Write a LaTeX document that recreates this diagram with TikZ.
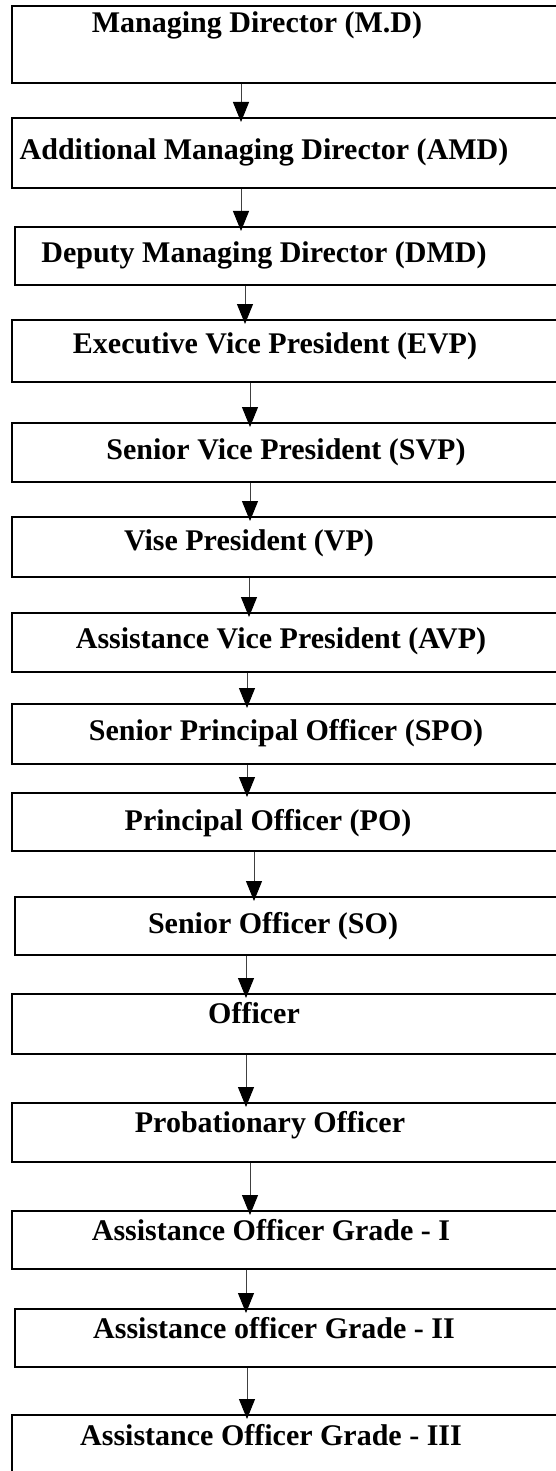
\documentclass[tikz,border=0pt]{standalone}
\usepackage{fontspec}
\setmainfont{Liberation Serif}
\usetikzlibrary{arrows.meta}
\tikzset{
  boxx/.style={draw=black, line width=1.6pt, rectangle, inner sep=0pt, anchor=north west, minimum width=570pt, minimum height=#1},
  lbl/.style={anchor=base, inner sep=0pt, font=\bfseries\fontsize{30}{36}\selectfont},
  tipx/.tip={Triangle[length=20pt 0 0, width=16pt 0 0, fill=black, color=black]},
  arr/.style={draw=black!75, line width=1pt, -tipx, shorten >=-5pt}
}
\begin{document}
\begin{tikzpicture}[x=1pt,y=-1pt]
\fill[white] (0,0) rectangle (556,1471);
\useasboundingbox (0,0) rectangle (556,1471);
\clip (0,0) rectangle (556,1471);
% boxes
\node[boxx=77pt] (b1) at (11,5) {};
\node[boxx=70pt] (b2) at (11,117) {};
\node[boxx=58pt] (b3) at (14,226) {};
\node[boxx=62pt] (b4) at (11,319) {};
\node[boxx=59pt] (b5) at (11,422) {};
\node[boxx=60pt] (b6) at (11,516) {};
\node[boxx=59pt] (b7) at (11,612) {};
\node[boxx=60pt] (b8) at (11,703) {};
\node[boxx=58pt] (b9) at (11,792) {};
\node[boxx=58pt] (b10) at (14,896) {};
\node[boxx=60pt] (b11) at (11,993) {};
\node[boxx=59pt] (b12) at (11,1102) {};
\node[boxx=58pt] (b13) at (11,1210) {};
\node[boxx=58pt] (b14) at (14,1308) {};
\node[boxx=90pt] (b15) at (11,1414) {};
% labels
\node[lbl] (t1) at (257,33) {Managing Director (M.D)};
\node[lbl] (t2) at (264,160) {Additional Managing Director (AMD)};
\node[lbl] (t3) at (264,262) {Deputy Managing Director (DMD)};
\node[lbl] (t4) at (275,353) {Executive Vice President (EVP)};
\node[lbl] (t5) at (286,459) {Senior Vice President (SVP)};
\node[lbl] (t6) at (249,550) {Vise President (VP)};
\node[lbl] (t7) at (281,648) {Assistance Vice President (AVP)};
\node[lbl] (t8) at (286,740) {Senior Principal Officer (SPO)};
\node[lbl] (t9) at (268,830) {Principal Officer (PO)};
\node[lbl] (t10) at (273,933) {Senior Officer (SO)};
\node[lbl] (t11) at (254,1023) {Officer};
\node[lbl] (t12) at (270,1132) {Probationary Officer};
\node[lbl] (t13) at (271,1240) {Assistance Officer Grade - I};
\node[lbl] (t14) at (274,1338) {Assistance officer Grade - II};
\node[lbl] (t15) at (271,1445) {Assistance Officer Grade - III};
% arrow x positions
\coordinate (a1) at (241,0);
\coordinate (a2) at (241,0);
\coordinate (a3) at (245,0);
\coordinate (a4) at (250,0);
\coordinate (a5) at (250,0);
\coordinate (a6) at (249,0);
\coordinate (a7) at (247,0);
\coordinate (a8) at (247,0);
\coordinate (a9) at (254,0);
\coordinate (a10) at (246,0);
\coordinate (a11) at (246,0);
\coordinate (a12) at (250,0);
\coordinate (a13) at (246,0);
\coordinate (a14) at (247,0);
\draw[arr] (b1.south -| a1) -- (b2.north -| a1);
\draw[arr] (b2.south -| a2) -- (b3.north -| a2);
\draw[arr] (b3.south -| a3) -- (b4.north -| a3);
\draw[arr] (b4.south -| a4) -- (b5.north -| a4);
\draw[arr] (b5.south -| a5) -- (b6.north -| a5);
\draw[arr] (b6.south -| a6) -- (b7.north -| a6);
\draw[arr] (b7.south -| a7) -- (b8.north -| a7);
\draw[arr] (b8.south -| a8) -- (b9.north -| a8);
\draw[arr] (b9.south -| a9) -- (b10.north -| a9);
\draw[arr] (b10.south -| a10) -- (b11.north -| a10);
\draw[arr] (b11.south -| a11) -- (b12.north -| a11);
\draw[arr] (b12.south -| a12) -- (b13.north -| a12);
\draw[arr] (b13.south -| a13) -- (b14.north -| a13);
\draw[arr] (b14.south -| a14) -- (b15.north -| a14);
\end{tikzpicture}
\end{document}
